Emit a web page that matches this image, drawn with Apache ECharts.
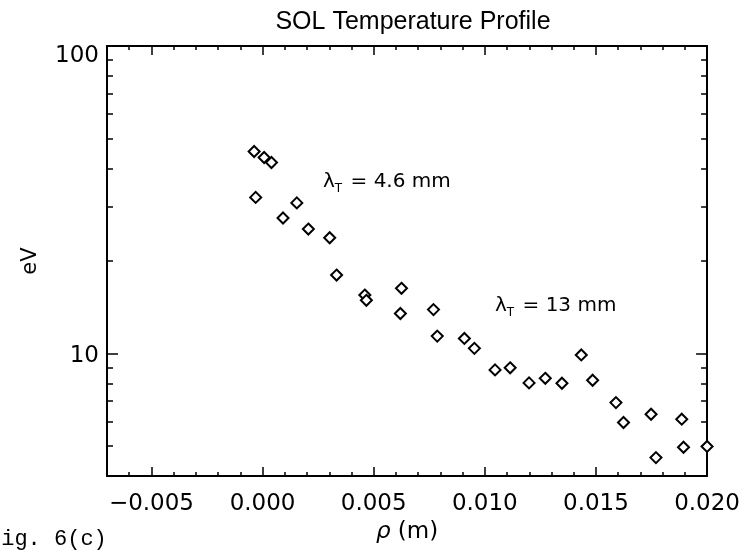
<!DOCTYPE html>
<html>
<head>
<meta charset="utf-8">
<title>SOL Temperature Profile</title>
<script src="https://cdn.jsdelivr.net/npm/echarts@6/dist/echarts.min.js"></script>
<style>
  html, body { margin: 0; padding: 0; background: #fff; }
  #main { width: 743px; height: 557px; }
</style>
</head>
<body>
<div id="main"></div>
<script>
// rho (m) and electron temperature (eV)
var rho = [-0.00038, 0.00007, 0.0004, -0.00031, 0.00092, 0.00154, 0.00206, 0.00302,
  0.00333, 0.0046, 0.00467, 0.00625, 0.0062, 0.00769, 0.00786, 0.00908, 0.00953,
  0.01046, 0.01114, 0.01199, 0.01272, 0.01347, 0.01434, 0.01485, 0.0159, 0.01624,
  0.01748, 0.0177, 0.01886, 0.01894, 0.0200];
var te = [45.4, 43.4, 41.8, 32.2, 27.6, 30.9, 25.4, 23.8,
  18.0, 15.5, 14.9, 16.3, 13.5, 13.9, 11.4, 11.2, 10.4,
  8.85, 8.99, 8.03, 8.31, 8.01, 9.9, 8.19, 6.93, 5.97,
  6.35, 4.59, 6.12, 4.96, 4.99];

var xMajorTicks = [-0.005, 0, 0.005, 0.010, 0.015, 0.020];
var xMinorTicks = [-0.006, -0.004, -0.003, -0.002, -0.001,
  0.001, 0.002, 0.003, 0.004, 0.006, 0.007, 0.008, 0.009,
  0.011, 0.012, 0.013, 0.014, 0.016, 0.017, 0.018, 0.019];
var yMajorTicks = [10, 100];
var yMinorTicks = [5, 6, 7, 8, 9, 20, 30, 40, 50, 60, 70, 80, 90];

var fit1 = '4.6 mm';
var fit2 = '13 mm';

var lineStyle = { color: '#000', width: 2 };

function xAxis(pos, ticks, len, withLabels) {
  return {
    type: 'value', position: pos, min: -0.007, max: 0.020,
    axisLine: { show: withLabels, onZero: false, lineStyle: lineStyle },
    splitLine: { show: false },
    axisTick: { inside: true, length: len, customValues: ticks, lineStyle: { color: '#000', width: 1.5 } },
    axisLabel: {
      show: withLabels && pos === 'bottom', customValues: ticks, margin: 17,
      color: '#000', fontSize: 23, fontFamily: 'DejaVu Sans',
      formatter: function (v) { return (v < 0 ? '\u2212' : '') + Math.abs(v).toFixed(3); }
    }
  };
}

function yAxis(pos, ticks, len, withLabels) {
  return {
    type: 'log', position: pos, min: 4, max: 100,
    axisLine: { show: withLabels, onZero: false, lineStyle: lineStyle },
    splitLine: { show: false },
    axisTick: { inside: true, length: len, customValues: ticks, lineStyle: { color: '#000', width: 1.5 } },
    axisLabel: {
      show: withLabels && pos === 'left', customValues: ticks, margin: 8,
      color: '#000', fontSize: 23, fontFamily: 'DejaVu Sans',
      // the top label sits a little below its tick in the original
      formatter: function (v) { return v >= 100 ? '{low|' + v + '}' : '{n|' + v + '}'; },
      rich: {
        low: { fontSize: 23, fontFamily: 'DejaVu Sans', color: '#000', padding: [20, 0, 0, 0] },
        n: { fontSize: 23, fontFamily: 'DejaVu Sans', color: '#000', padding: [5, 0, 0, 0] }
      }
    }
  };
}

var xAxes = [
  xAxis('bottom', xMajorTicks, 9, true),
  xAxis('bottom', xMinorTicks, 4, false),
  xAxis('top', xMajorTicks, 9, true),
  xAxis('top', xMinorTicks, 4, false)
];
xAxes[0].name = '{i|\u03c1} (m)';
xAxes[0].nameLocation = 'middle';
xAxes[0].nameGap = 40;
xAxes[0].nameTextStyle = {
  color: '#000', fontSize: 23, fontFamily: 'DejaVu Sans',
  rich: { i: { fontStyle: 'italic', fontSize: 23, fontFamily: 'DejaVu Sans', color: '#000' } }
};

var yAxes = [
  yAxis('left', yMajorTicks, 11, true),
  yAxis('left', yMinorTicks, 6, false),
  yAxis('right', yMajorTicks, 11, true),
  yAxis('right', yMinorTicks, 6, false)
];
yAxes[0].name = 'eV';
yAxes[0].nameLocation = 'middle';
yAxes[0].nameGap = 66;
yAxes[0].nameTextStyle = { color: '#000', fontSize: 21, fontFamily: 'DejaVu Sans' };

function lambdaText(val) {
  return '{a|\u03bb}{b|T}{a| = ' + val + '}';
}
var lambdaRich = {
  a: { fontSize: 20, fontFamily: 'DejaVu Sans', fill: '#000', color: '#000' },
  b: { fontSize: 12, fontFamily: 'DejaVu Sans', fill: '#000', color: '#000', padding: [14, 2, 0, 0] }
};

var option = {
  animation: false,
  backgroundColor: '#fff',
  title: {
    text: 'SOL Temperature Profile',
    left: 408, top: 5, textAlign: 'center',
    textStyle: { color: '#000', fontSize: 25, fontWeight: 'normal', fontFamily: 'Liberation Sans' }
  },
  grid: { left: 107, right: 35, top: 46, bottom: 81 },
  xAxis: xAxes,
  yAxis: yAxes,
  series: [{
    type: 'scatter',
    xAxisIndex: 0, yAxisIndex: 0,
    symbol: 'diamond', symbolSize: 11,
    itemStyle: { color: '#fff', borderColor: '#000', borderWidth: 2, opacity: 1 },
    data: rho.map(function (x, i) { return [x, te[i]]; })
  }],
  graphic: [
    { type: 'text', left: 323, top: 172, style: { text: lambdaText(fit1), rich: lambdaRich } },
    { type: 'text', left: 495, top: 296, style: { text: lambdaText(fit2), rich: lambdaRich } },
    { type: 'text', left: -12, top: 528, style: { text: 'Fig. 6(c)', fill: '#000', fontSize: 22, fontFamily: 'Liberation Mono' } }
  ]
};

var chart = echarts.init(document.getElementById('main'));
chart.setOption(option);
</script>
</body>
</html>
